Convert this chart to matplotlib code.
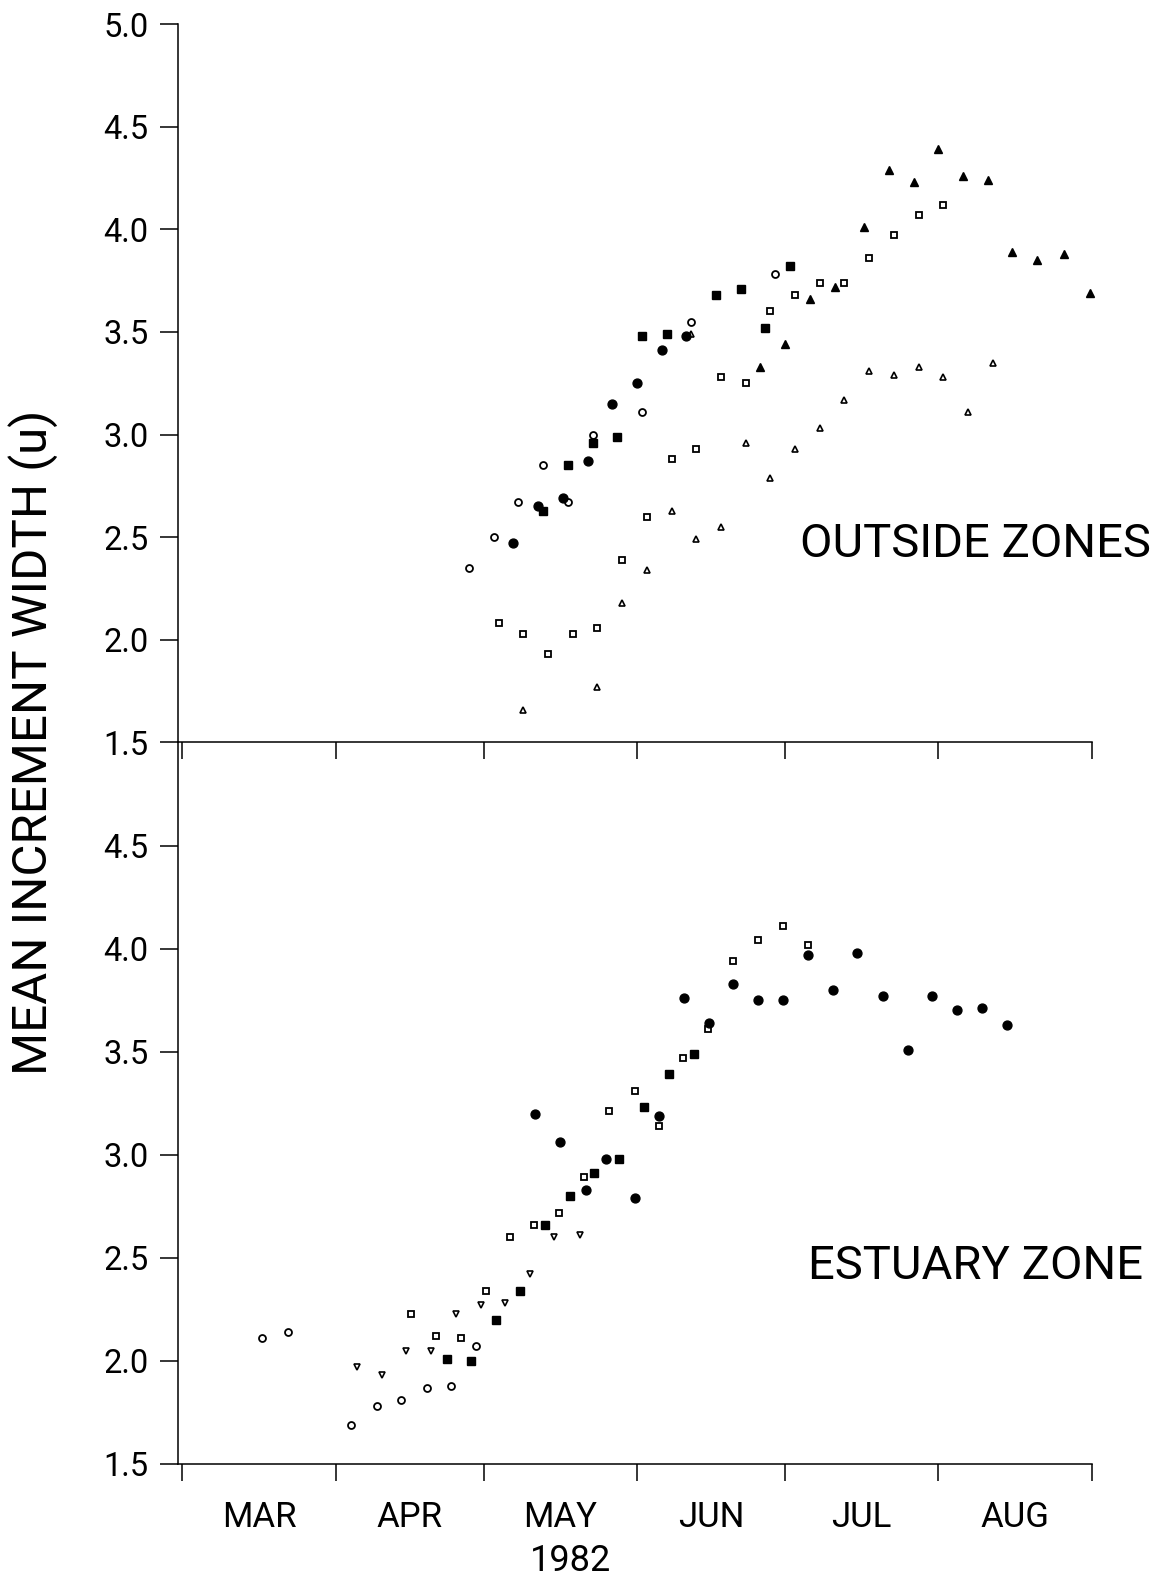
import numpy as np
import matplotlib
matplotlib.use("Agg")
from matplotlib import pyplot as plt

# Days counted from 1 March 1982, widths in microns

# --- Outside zones (upper panel) ---
out_open_circle_day = [58, 63, 68, 73, 78, 83, 93, 103, 120]
out_open_circle_w = [2.35, 2.50, 2.67, 2.85, 2.67, 3.00, 3.11, 3.55, 3.78]

out_filled_circle_day = [67, 72, 77, 82, 87, 92, 97, 102]
out_filled_circle_w = [2.47, 2.65, 2.69, 2.87, 3.15, 3.25, 3.41, 3.48]

out_filled_square_day = [73, 78, 83, 88, 93, 98, 108, 113, 118, 123]
out_filled_square_w = [2.63, 2.85, 2.96, 2.99, 3.48, 3.49, 3.68, 3.71, 3.52, 3.82]

out_open_square_day = [64, 69, 74, 79, 84, 89, 94, 99, 104, 109, 114, 119, 124,
                       129, 134, 139, 144, 149, 154]
out_open_square_w = [2.08, 2.03, 1.93, 2.03, 2.06, 2.39, 2.60, 2.88, 2.93, 3.28,
                     3.25, 3.60, 3.68, 3.74, 3.74, 3.86, 3.97, 4.07, 4.12]

out_open_tri_day = [69, 84, 89, 94, 99, 103, 104, 109, 114, 119, 124, 129, 134,
                    139, 144, 149, 154, 159, 164]
out_open_tri_w = [1.66, 1.77, 2.18, 2.34, 2.63, 3.49, 2.49, 2.55, 2.96, 2.79,
                  2.93, 3.03, 3.17, 3.31, 3.29, 3.33, 3.28, 3.11, 3.35]

out_filled_tri_day = [117, 122, 127, 132, 138, 143, 148, 153, 158, 163, 168,
                      173, 178.5, 183.6]
out_filled_tri_w = [3.33, 3.44, 3.66, 3.72, 4.01, 4.29, 4.23, 4.39, 4.26, 4.24,
                    3.89, 3.85, 3.88, 3.69]

# --- Estuary zone (lower panel) ---
est_open_circle_day = [16.1, 21.3, 34.2, 39.4, 44.3, 49.4, 54.4, 59.5]
est_open_circle_w = [2.11, 2.14, 1.69, 1.78, 1.81, 1.87, 1.88, 2.07]

est_open_vtri_day = [35.3, 40.4, 45.2, 50.3, 55.4, 60.4, 65.3, 70.4, 75.3, 80.4]
est_open_vtri_w = [1.97, 1.93, 2.05, 2.05, 2.23, 2.27, 2.28, 2.42, 2.60, 2.61]

est_open_square_day = [46.3, 51.4, 56.4, 61.5, 66.4, 71.2, 76.3, 81.3, 86.4,
                       91.5, 96.4, 101.3, 106.4, 111.4, 116.4, 121.5, 126.6]
est_open_square_w = [2.23, 2.12, 2.11, 2.34, 2.60, 2.66, 2.72, 2.89, 3.21, 3.31,
                     3.14, 3.47, 3.61, 3.94, 4.04, 4.11, 4.02]

est_filled_square_day = [53.5, 58.5, 63.5, 68.4, 73.3, 78.4, 83.4, 88.4, 93.5,
                         98.4, 103.5]
est_filled_square_w = [2.01, 2.00, 2.20, 2.34, 2.66, 2.80, 2.91, 2.98, 3.23,
                       3.39, 3.49]

est_filled_circle_day = [71.3, 76.4, 81.6, 85.7, 91.5, 96.5, 101.6, 106.5, 111.5,
                         116.5, 121.6, 126.6, 131.6, 136.6, 141.7, 146.8, 151.8,
                         156.8, 161.9, 166.9]
est_filled_circle_w = [3.20, 3.06, 2.83, 2.98, 2.79, 3.19, 3.76, 3.64, 3.83, 3.75,
                       3.75, 3.97, 3.80, 3.98, 3.77, 3.51, 3.77, 3.70, 3.71, 3.63]

# month boundaries / label positions (days from 1 March)
month_start = [0, 31, 61, 92, 122, 153, 184]
month_names = ["MAR", "APR", "MAY", "JUN", "JUL", "AUG"]
month_mid = [(a + b) / 2 for a, b in zip(month_start[:-1], month_start[1:])]

plt.rcParams['font.family'] = ['Roboto', 'DejaVu Sans']


def dots(ax, x, y, marker, filled, ms, mew=1.0):
    ax.plot(x, y, linestyle='none', marker=marker, ms=ms, mew=mew,
            mec='black', mfc='black' if filled else 'white', clip_on=False)


def style_axes(ax, yticks):
    ax.patch.set_visible(False)
    for side in ['top', 'right']:
        ax.spines[side].set_visible(False)
    for side in ['left', 'bottom']:
        ax.spines[side].set_linewidth(1.1)
    ax.set_xlim(-1.0, 184)
    ax.set_ylim(1.5, 5.0)
    ax.set_xticks(month_start)
    ax.set_yticks(yticks)
    ax.set_yticklabels(["%.1f" % v for v in yticks])
    ax.tick_params(axis='x', which='major', direction='out', length=12.5,
                   width=1.1, labelbottom=False)
    ax.tick_params(axis='y', direction='out', length=13, width=1.1,
                   labelsize=23.5, pad=8)


fig = plt.figure(figsize=(11.56, 15.77), dpi=100)
ax_out = fig.add_axes([0.15355, 0.52917, 0.79066, 0.45561])
ax_est = fig.add_axes([0.15355, 0.07166, 0.79066, 0.45751])
ax_out.set_zorder(2)

style_axes(ax_out, np.arange(1.5, 5.01, 0.5))
style_axes(ax_est, np.arange(1.5, 4.51, 0.5))

# upper panel
dots(ax_out, out_open_square_day, out_open_square_w, 's', False, 5.0, 1.3)
dots(ax_out, out_open_tri_day, out_open_tri_w, '^', False, 4.6, 1.2)
dots(ax_out, out_filled_tri_day, out_filled_tri_w, '^', True, 5.8)
dots(ax_out, out_open_circle_day, out_open_circle_w, 'o', False, 5.0, 1.3)
dots(ax_out, out_filled_square_day, out_filled_square_w, 's', True, 6.2)
dots(ax_out, out_filled_circle_day, out_filled_circle_w, 'o', True, 6.4)
ax_out.text(160.5, 2.405, "OUTSIDE ZONES", fontsize=34, ha='center', va='baseline')

# lower panel
dots(ax_est, est_open_circle_day, est_open_circle_w, 'o', False, 5.0, 1.3)
dots(ax_est, est_open_vtri_day, est_open_vtri_w, 'v', False, 4.8, 1.2)
dots(ax_est, est_open_square_day, est_open_square_w, 's', False, 5.0, 1.3)
dots(ax_est, est_filled_square_day, est_filled_square_w, 's', True, 6.2)
dots(ax_est, est_filled_circle_day, est_filled_circle_w, 'o', True, 6.4)
ax_est.text(160.5, 2.395, "ESTUARY ZONE", fontsize=34, ha='center', va='baseline')

# month names between the boundary ticks
ax_est.set_xticks(month_mid, minor=True)
ax_est.set_xticklabels(month_names, minor=True)
ax_est.tick_params(axis='x', which='minor', length=0, labelsize=25, pad=27)
ax_est.set_xlabel("1982", fontsize=26, labelpad=6, x=0.43)

fig.text(33 / 1156, 1 - 742 / 1577, "MEAN INCREMENT WIDTH (u)", rotation=90,
         ha='center', va='center', fontsize=35.5)

fig.savefig("out.png", dpi=100)
